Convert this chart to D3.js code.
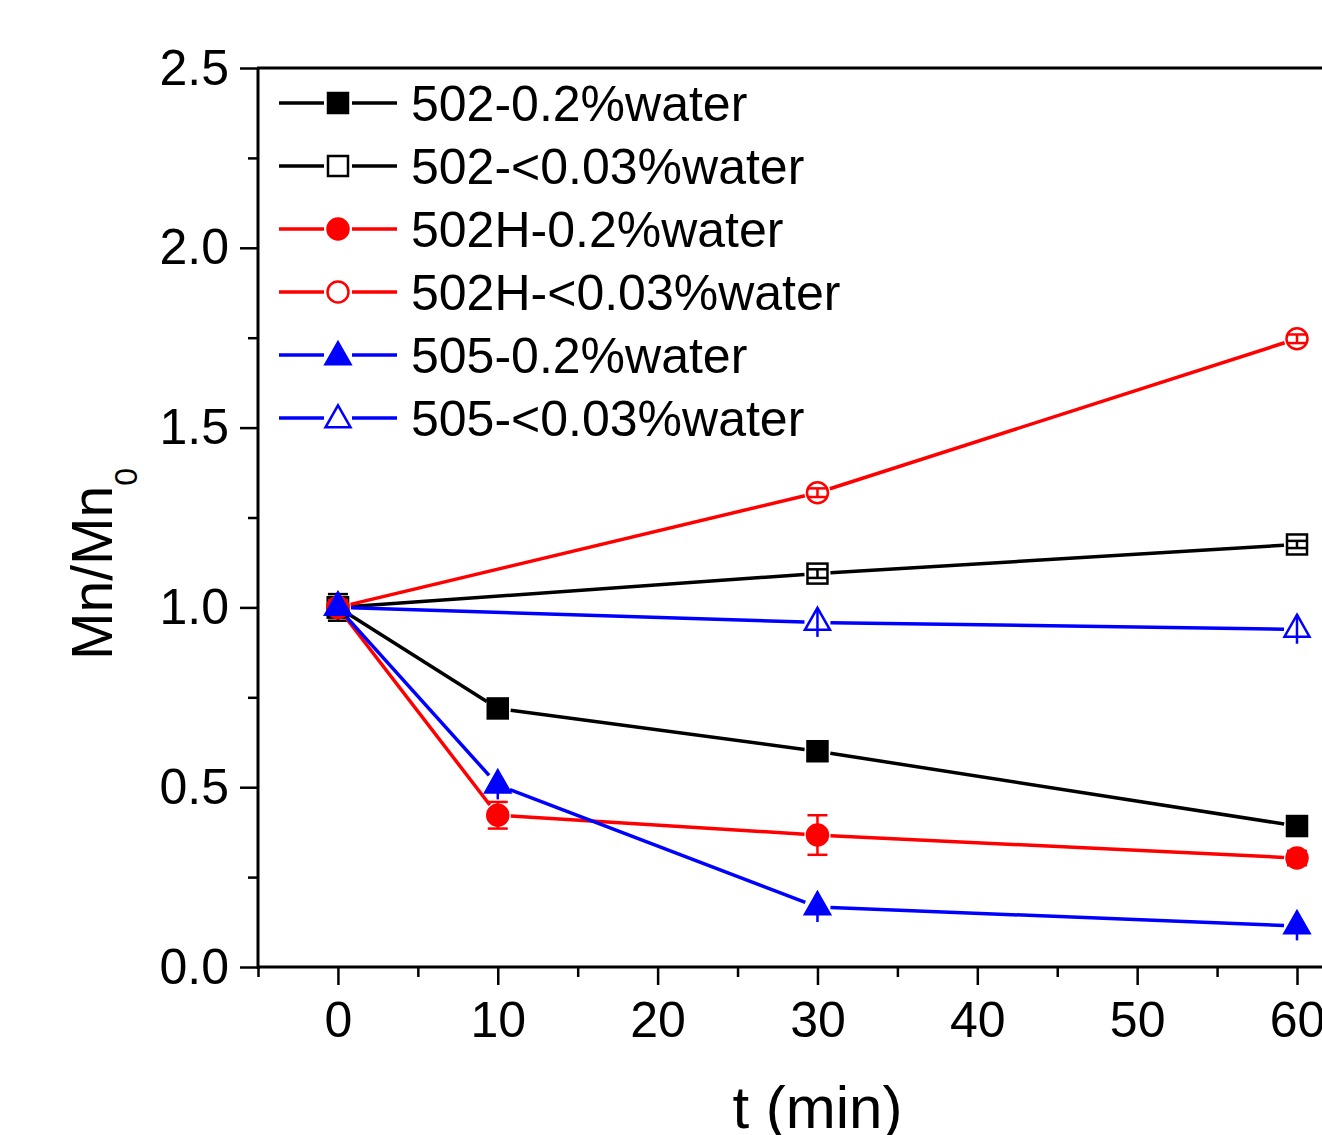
<!DOCTYPE html>
<html>
<head>
<meta charset="utf-8">
<script src="https://cdn.jsdelivr.net/npm/d3@7"></script>
<style>
  html, body { margin: 0; padding: 0; background: #fff; }
  svg { display: block; }
  text { font-family: "Liberation Sans", Arial, sans-serif; fill: #000; }
</style>
</head>
<body>
<svg id="chart" width="1322" height="1135"></svg>
<script>
// ---- data ----
const times = [0, 10, 30, 60];
const seriesNames = ["502-0.2%water", "502-<0.03%water", "502H-0.2%water", "502H-<0.03%water", "505-0.2%water", "505-<0.03%water"];
const v502_02   = [1.0, 0.719, 0.600, 0.392];
const v502_003  = [1.0, null, 1.094, 1.175];
const v502H_02  = [1.0, 0.422, 0.367, 0.303];
const v502H_003 = [1.0, null, 1.319, 1.747];
const v505_02   = [1.0, 0.506, 0.167, 0.114];
const v505_003  = [1.0, null, 0.958, 0.939];
const e502_02   = [0.037, 0.01, 0.01, 0.015];
const e502_003  = [0.02, null, 0.012, 0.01];
const e502H_02  = [0.02, 0.037, 0.055, 0.02];
const e502H_003 = [0.01, null, 0.012, 0.012];
const e505_02   = [0.02, 0.04, 0.042, 0.04];
const e505_003  = [0.02, null, 0.04, 0.04];
const xTicks = [0, 10, 20, 30, 40, 50, 60];
const yTicks = [0.0, 0.5, 1.0, 1.5, 2.0, 2.5];

const values = [v502_02, v502_003, v502H_02, v502H_003, v505_02, v505_003];
const errors = [e502_02, e502_003, e502H_02, e502H_003, e505_02, e505_003];
const colors = ["#000000", "#000000", "#ff0000", "#ff0000", "#0000ff", "#0000ff"];
const shapes = ["square", "square", "circle", "circle", "triangle", "triangle"];
const filled = [true, false, true, false, true, false];

// ---- layout ----
const svg = d3.select("#chart");
const x = d3.scaleLinear().domain([-5, 60]).range([258, 1297]);
const y = d3.scaleLinear().domain([0, 2.5]).range([967, 68]);
const rightEdge = 1330;

// axes
const yAxis = d3.axisLeft(y).tickValues(yTicks).tickSize(18).tickPadding(11).tickFormat(d3.format(".1f"));
const gy = svg.append("g").attr("transform", `translate(${x(-5)},0)`).call(yAxis);
const yMinor = d3.axisLeft(y).tickValues(d3.range(0.25, 2.5, 0.5)).tickSize(10).tickFormat("");
svg.append("g").attr("transform", `translate(${x(-5)},0)`).call(yMinor).select(".domain").remove();

const xAxis = d3.axisBottom(x).tickValues(xTicks).tickSize(18).tickPadding(12).tickFormat(d3.format("d"));
const gx = svg.append("g").attr("transform", `translate(0,${y(0)})`).call(xAxis);
const xMinor = d3.axisBottom(x).tickValues(d3.range(-5, 61, 10)).tickSize(10).tickFormat("");
svg.append("g").attr("transform", `translate(0,${y(0)})`).call(xMinor).select(".domain").remove();

svg.selectAll(".domain").remove();
svg.selectAll(".tick line").attr("stroke", "#000").attr("stroke-width", 2.5);
gy.selectAll(".tick text").attr("font-size", 50).attr("dy", "0.32em").attr("font-family", "Liberation Sans, Arial, sans-serif");
gx.selectAll(".tick text").attr("font-size", 50).attr("dy", "0.8em").attr("font-family", "Liberation Sans, Arial, sans-serif");

// axis lines / frame
svg.append("line").attr("x1", x(-5)).attr("x2", x(-5)).attr("y1", y(2.5)).attr("y2", y(0) + 2)
  .attr("stroke", "#000").attr("stroke-width", 3);
svg.append("line").attr("x1", x(-5) - 1).attr("x2", rightEdge).attr("y1", y(0)).attr("y2", y(0))
  .attr("stroke", "#000").attr("stroke-width", 3);
svg.append("line").attr("x1", x(-5) - 1).attr("x2", rightEdge).attr("y1", y(2.5)).attr("y2", y(2.5))
  .attr("stroke", "#000").attr("stroke-width", 3);

// axis titles
svg.append("text").attr("x", x(30)).attr("y", 1128).attr("text-anchor", "middle")
  .attr("font-size", 60).text("t (min)");
const yt = svg.append("text").attr("transform", "translate(112,660) rotate(-90)")
  .attr("text-anchor", "start").attr("font-size", 57);
yt.append("tspan").text("Mn/Mn");
yt.append("tspan").attr("font-size", 32).attr("dy", 25).text("0");

// marker drawing
function drawMarker(g, shape, isFilled, color, cx, cy) {
  const fill = isFilled ? color : "none";
  if (shape === "square") {
    g.append("rect").attr("x", cx - 10).attr("y", cy - 10).attr("width", 20).attr("height", 20)
      .attr("fill", fill).attr("stroke", color).attr("stroke-width", 2.5);
  } else if (shape === "circle") {
    g.append("circle").attr("cx", cx).attr("cy", cy).attr("r", 10.5)
      .attr("fill", fill).attr("stroke", color).attr("stroke-width", 2.5);
  } else {
    const w = 25, h = 22;
    const p = [[cx, cy - h * 2 / 3], [cx + w / 2, cy + h / 3], [cx - w / 2, cy + h / 3]];
    g.append("path").attr("d", "M" + p.map(q => q.join(",")).join("L") + "Z")
      .attr("fill", fill).attr("stroke", color).attr("stroke-width", 2.5).attr("stroke-linejoin", "miter");
  }
}

const gap = 13;
values.forEach((vals, si) => {
  const g = svg.append("g");
  const pts = times.map((t, i) => vals[i] == null ? null : [x(t), y(vals[i]), errors[si][i]]).filter(d => d);
  // line segments with gaps around markers
  for (let i = 0; i < pts.length - 1; i++) {
    const [x1, y1] = pts[i], [x2, y2] = pts[i + 1];
    const len = Math.hypot(x2 - x1, y2 - y1);
    const ux = (x2 - x1) / len, uy = (y2 - y1) / len;
    g.append("line")
      .attr("x1", x1 + ux * gap).attr("y1", y1 + uy * gap)
      .attr("x2", x2 - ux * gap).attr("y2", y2 - uy * gap)
      .attr("stroke", colors[si]).attr("stroke-width", 3.5);
  }
  const capHalf = shapes[si] === "triangle" ? 0 : 10;
  pts.forEach(([px, py, e]) => {
    const t = y(0) - y(e);
    const y1 = py - t, y2 = py + t;
    g.append("line").attr("x1", px).attr("x2", px).attr("y1", y1).attr("y2", y2)
      .attr("stroke", colors[si]).attr("stroke-width", 2.5);
    if (capHalf > 0) {
      [y1, y2].forEach(yy => g.append("line").attr("x1", px - capHalf).attr("x2", px + capHalf)
        .attr("y1", yy).attr("y2", yy).attr("stroke", colors[si]).attr("stroke-width", 2.5));
    }
    drawMarker(g, shapes[si], filled[si], colors[si], px, py);
  });
});

// legend
const legend = svg.append("g");
seriesNames.forEach((name, i) => {
  const ly = 103 + i * 63;
  legend.append("line").attr("x1", 279).attr("x2", 324).attr("y1", ly).attr("y2", ly)
    .attr("stroke", colors[i]).attr("stroke-width", 3.5);
  legend.append("line").attr("x1", 352).attr("x2", 397).attr("y1", ly).attr("y2", ly)
    .attr("stroke", colors[i]).attr("stroke-width", 3.5);
  drawMarker(legend, shapes[i], filled[i], colors[i], 338, ly + (shapes[i] === "triangle" ? 2 : 0));
  legend.append("text").attr("x", 411).attr("y", ly).attr("dy", "0.36em")
    .attr("font-size", 50).text(name);
});
</script>
</body>
</html>
